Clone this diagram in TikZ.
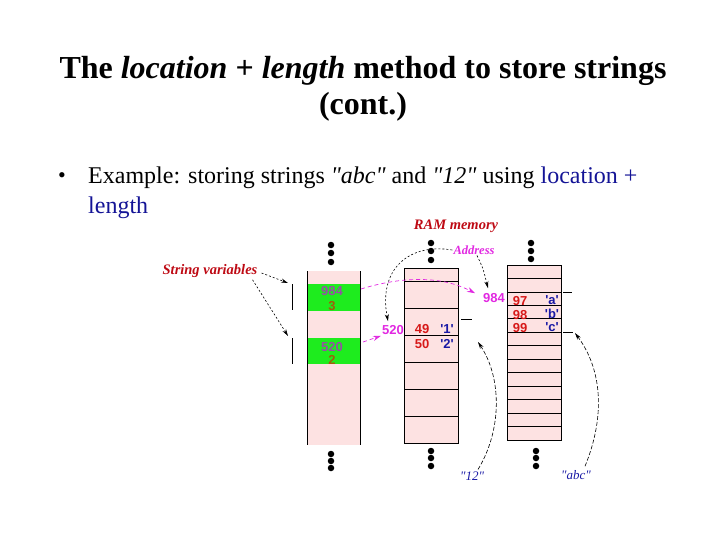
\documentclass[tikz,border=0pt]{standalone}
\usepackage{fontspec}
\setmainfont{Liberation Serif}
\newfontfamily\arialf{Liberation Sans}
\usetikzlibrary{arrows.meta,calc}
\definecolor{pinkc}{RGB}{253,226,226}
\definecolor{greenc}{RGB}{30,236,30}
\definecolor{darkredc}{RGB}{190,10,20}
\definecolor{magc}{RGB}{225,40,225}
\definecolor{purpc}{RGB}{150,80,165}
\definecolor{brownc}{RGB}{160,95,10}
\definecolor{redc}{RGB}{215,25,25}
\definecolor{dbluec}{RGB}{25,25,165}
\definecolor{textblue}{RGB}{20,20,150}
\begin{document}
\begin{tikzpicture}[x=1pt,y=-1pt,
  colbox/.style={fill=pinkc, draw=none, inner sep=0pt, outer sep=0pt, anchor=north west},
  greenbox/.style={fill=greenc, draw=none, inner sep=0pt, outer sep=0pt, anchor=north west, minimum width=53pt, minimum height=27pt},
  memdot/.style={circle, fill=black, inner sep=0pt, minimum size=6.5pt},
  lbl/.style={font=\fontsize{14.5}{16}\selectfont\bfseries\itshape, text=darkredc, inner sep=1pt},
  cellnum/.style={font=\arialf\bfseries\fontsize{13}{15}\selectfont, inner sep=1pt},
  ptr/.style={dash pattern=on 2pt off 2pt, line width=0.6pt, -{Stealth[length=7pt,width=4pt]}},
  magptr/.style={draw=magc, dash pattern=on 4pt off 3pt, line width=0.7pt, -{Stealth[length=8pt,width=5pt,fill=magc]}},
  strlbl/.style={font=\fontsize{13}{15}\selectfont\itshape, text=dbluec, inner sep=1pt}
]
\useasboundingbox (0,0) rectangle (720,540);

% Title
\node[font=\fontsize{32}{36}\selectfont\bfseries, align=center] (title) at (363,89)
  {The \textit{location} + \textit{length} method to store strings\\(cont.)};

% Bullet text
\node[anchor=base west, font=\fontsize{22}{24}\selectfont, inner sep=0pt] (bul) at (58,183) {\textbullet};
\node[anchor=base west, font=\fontsize{24}{28}\selectfont, inner sep=0pt] (line1) at (88,184)
  {Example: storing strings \textit{\textquotedbl abc\textquotedbl} and \textit{\textquotedbl 12\textquotedbl} using \textcolor{textblue}{location +}};
\node[anchor=base west, font=\fontsize{24}{28}\selectfont, inner sep=0pt, text=textblue] (line2) at (88,214) {length};

% Labels
\node[lbl] (sv) at (210,271) {String variables};
\node[lbl] (ram) at (456,226) {RAM memory};
\node[lbl, font=\fontsize{12.5}{14}\selectfont\bfseries\itshape, text=magc] (addr) at (474,250) {Address};

% Left column
\node[colbox, minimum width=53pt, minimum height=174pt] (L) at (307,271) {};
\node[greenbox] (v1) at (307,284) {};
\node[greenbox, minimum height=26pt] (v2) at (307,338) {};
\draw[line width=0.8pt] (L.north west) -- (L.south west);
\draw[line width=0.8pt] (L.north east) -- (L.south east);
\node[cellnum, text=purpc] (t984) at (332,291) {984};
\node[cellnum, text=brownc] (t3) at (332,306) {3};
\node[cellnum, text=purpc] (t520) at (332,347) {520};
\node[cellnum, text=brownc] (t2) at (332,360) {2};
\coordinate (br1t) at (292,284); \coordinate (br1b) at (292,310);
\coordinate (br2t) at (292,338); \coordinate (br2b) at (292,364);
\draw[line width=0.8pt] (br1t) -- (br1b);
\draw[line width=0.8pt] (br2t) -- (br2b);

% Middle column
\node[colbox, draw=black, line width=0.8pt, minimum width=54pt, minimum height=175pt] (M) at (404,268) {};
\foreach \y in {281,308,335,362,389,416} \draw[line width=0.8pt] (404,\y) -- (458,\y);
\node[cellnum, text=redc] (t49) at (422,329) {49};
\node[cellnum, text=dbluec] (tc1) at (447,329) {'1'};
\node[cellnum, text=redc] (t50) at (422,344) {50};
\node[cellnum, text=dbluec] (tc2) at (447,344) {'2'};
\draw[line width=0.8pt] (461,319) -- (472,319);

% Right column
\node[colbox, draw=black, line width=0.8pt, minimum width=54pt, minimum height=175pt] (R) at (507,265) {};
\foreach \i in {1,...,12} \draw[line width=0.8pt] (507,265+\i*13.46) -- (561,265+\i*13.46);
\node[cellnum, text=redc] (t97) at (520,301) {97};
\node[cellnum, text=redc] (t98) at (520,315) {98};
\node[cellnum, text=redc] (t99) at (520,328) {99};
\node[cellnum, text=dbluec] (ta) at (552,300) {'a'};
\node[cellnum, text=dbluec] (tb) at (552,314) {'b'};
\node[cellnum, text=dbluec] (tcc) at (552,327) {'c'};
\draw[line width=0.8pt] (563,292) -- (572,292);
\draw[line width=0.8pt] (563,332) -- (573,332);
\coordinate (tickc) at (575,333);
\coordinate (p2) at (478,342);

% Address labels
\node[cellnum, text=magc] (m984) at (494,298) {984};
\node[cellnum, text=magc] (m520) at (393,330) {520};

% Address pointers (behind dots)
\draw[ptr] (addr.west) .. controls (410,243) and (378,268) .. ($(m520.north)+(-5,-3)$);
\draw[ptr] ($(addr.south)+(3,0)$) .. controls (483,268) .. ($(m984.north)+(-6,-4)$);

% Dots
\foreach \i/\y in {1/245,2/253,3/262} \node[memdot] (dLt\i) at (331,\y) {};
\foreach \i/\y in {1/243,2/251,3/260} \node[memdot] (dMt\i) at (431,\y) {};
\foreach \i/\y in {1/243,2/251,3/259} \node[memdot] (dRt\i) at (531,\y) {};
\foreach \i/\y in {1/454,2/461,3/468} \node[memdot] (dLb\i) at (331,\y) {};
\foreach \i/\y in {1/451,2/458,3/466} \node[memdot] (dMb\i) at (431,\y) {};
\foreach \i/\y in {1/451,2/458,3/466} \node[memdot] (dRb\i) at (536,\y) {};

% String variables pointers
\draw[ptr] ($(sv.east)+(3,2)$) -- ($(br1t)+(-4,-1)$);
\draw[ptr] ($(sv.south east)+(-6,1)$) -- ($(br2t)+(-4,-2)$);

% Magenta pointers
\draw[magptr] ($(v1.north east)+(1,5)$) .. controls (400,277) and (440,275) .. ($(m984.north west)+(-7,1)$);
\draw[magptr] ($(v2.north east)+(3,4)$) -- (m520.south west);

% String labels and pointers
\node[strlbl] (s12) at (472,476) {\textquotedbl 12\textquotedbl};
\node[strlbl] (sabc) at (576,475) {\textquotedbl abc\textquotedbl};
\draw[ptr, dash pattern=on 4pt off 2pt] ($(s12.north)+(6,-1)$) .. controls (502,430) and (502,378) .. (p2);
\draw[ptr, dash pattern=on 4pt off 2pt] ($(sabc.north)+(9,-3)$) .. controls (604,420) and (604,372) .. (tickc);
\end{tikzpicture}
\end{document}
